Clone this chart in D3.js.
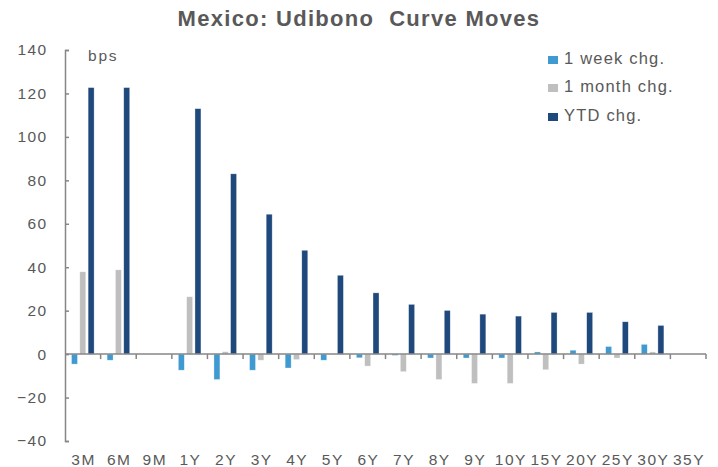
<!DOCTYPE html>
<html>
<head>
<meta charset="utf-8">
<script src="https://cdn.jsdelivr.net/npm/d3@7"></script>
<style>
  html, body { margin: 0; padding: 0; background: #ffffff; }
  svg { display: block; font-family: "Liberation Sans", Arial, sans-serif; }
</style>
</head>
<body>
<svg id="chart" width="718" height="467"></svg>
<script>
// Tenors along the curve
const categories = ["3M","6M","9M","1Y","2Y","3Y","4Y","5Y","6Y","7Y","8Y","9Y","10Y","15Y","20Y","25Y","30Y","35Y"];

// Changes in basis points (null = no bond at that tenor)
const weekChg  = [-4.6, -2.8, null, -7.4, -11.7, -7.4, -6.4, -2.8, -1.7, -0.6, -1.8, -1.8, -1.8, 1.0, 1.8, 3.5, 4.5, null];
const monthChg = [37.9, 38.8, null, 26.4, 1.1, -2.8, -2.5, 0, -5.5, -8.1, -11.7, -13.5, -13.5, -7.2, -4.6, -1.8, 1.0, null];
const ytdChg   = [122.7, 122.7, null, 113, 83, 64.4, 47.8, 36.3, 28.2, 22.9, 20.1, 18.4, 17.5, 19.2, 19.2, 14.9, 13.2, null];

const seriesNames = ["1 week chg.", "1 month chg.", "YTD chg."];
const seriesColors = ["#3E9AD1", "#BFBFBF", "#1F497D"];
const yTicks = [-40, -20, 0, 20, 40, 60, 80, 100, 120, 140];

const seriesValues = [weekChg, monthChg, ytdChg];
const textColor = "#595959";
const axisColor = "#868686";
const fontStack = "Liberation Sans, Arial, sans-serif";

const svg = d3.select("#chart");

const y = d3.scaleLinear().domain([-40, 140]).range([441, 50]);
const x = d3.scaleBand().domain(categories).range([65, 706]).padding(0);
const xs = d3.scaleBand().domain(d3.range(3)).range([0, x.bandwidth()])
  .paddingInner(0.28).paddingOuter(0.78);

// Title
svg.append("text")
  .attr("x", 359).attr("y", 26)
  .attr("text-anchor", "middle")
  .attr("font-size", 22).attr("font-weight", "bold")
  .attr("letter-spacing", 1.3)
  .attr("fill", textColor)
  .text("Mexico: Udibono\u00A0 Curve Moves");

// Bars
const rows = categories.map((c, i) => ({ c, vals: seriesValues.map(s => s[i]) }));
const groups = svg.append("g").selectAll("g").data(rows).join("g")
  .attr("transform", d => `translate(${x(d.c)},0)`);
groups.selectAll("rect")
  .data(d => d.vals.map((v, k) => ({ v, k })).filter(e => e.v !== null && e.v !== 0))
  .join("rect")
  .attr("x", e => xs(e.k))
  .attr("width", xs.bandwidth())
  .attr("y", e => y(Math.max(0, e.v)))
  .attr("height", e => Math.abs(y(e.v) - y(0)))
  .attr("fill", e => seriesColors[e.k])
  .attr("stroke", "#ffffff").attr("stroke-opacity", 0.55).attr("stroke-width", 0.6);

// Y axis with inward ticks
const yAxis = svg.append("g")
  .attr("transform", "translate(65,0)")
  .call(d3.axisLeft(y).tickValues(yTicks).tickSizeInner(-4).tickSizeOuter(-4).tickPadding(17.5));
yAxis.select(".domain").attr("stroke", axisColor).attr("stroke-width", 1.5);
yAxis.selectAll(".tick line").attr("stroke", axisColor).attr("stroke-width", 1.5);
yAxis.selectAll(".tick text")
  .attr("font-size", 15.5).attr("fill", textColor)
  .attr("letter-spacing", 1.4)
  .attr("font-family", fontStack);

// X axis line on zero with boundary ticks
const boundaries = categories.map(c => x(c)).concat([x(categories[categories.length - 1]) + x.bandwidth()]);
const xAxisLine = svg.append("g");
xAxisLine.append("line")
  .attr("x1", 65).attr("x2", 706)
  .attr("y1", y(0)).attr("y2", y(0))
  .attr("stroke", axisColor).attr("stroke-width", 1.5);
xAxisLine.selectAll("line.tk").data(boundaries.slice(1)).join("line")
  .attr("class", "tk")
  .attr("x1", d => d).attr("x2", d => d)
  .attr("y1", y(0)).attr("y2", y(0) + 5)
  .attr("stroke", axisColor).attr("stroke-width", 1.5);

// Category labels along the bottom
const xLabels = svg.append("g")
  .attr("transform", "translate(0,441)")
  .call(d3.axisBottom(x).tickSize(0).tickPadding(12.5));
xLabels.select(".domain").remove();
xLabels.selectAll(".tick text")
  .attr("font-size", 15.5).attr("fill", textColor)
  .attr("letter-spacing", 1.5)
  .attr("dx", 0.75)
  .attr("font-family", fontStack);

// Unit label
svg.append("text")
  .attr("x", 88).attr("y", 61)
  .attr("font-size", 15.5).attr("letter-spacing", 1.8).attr("fill", textColor)
  .text("bps");

// Legend
const legend = svg.append("g").selectAll("g").data(seriesNames).join("g")
  .attr("transform", (d, i) => `translate(548,${[64, 92, 121][i]})`);
legend.append("rect")
  .attr("x", 0).attr("y", -8).attr("width", 10).attr("height", 8)
  .attr("fill", (d, i) => seriesColors[i]);
legend.append("text")
  .attr("x", 16).attr("y", 0)
  .attr("font-size", 16.5).attr("letter-spacing", 1.2)
  .attr("fill", textColor)
  .text(d => d);
</script>
</body>
</html>
